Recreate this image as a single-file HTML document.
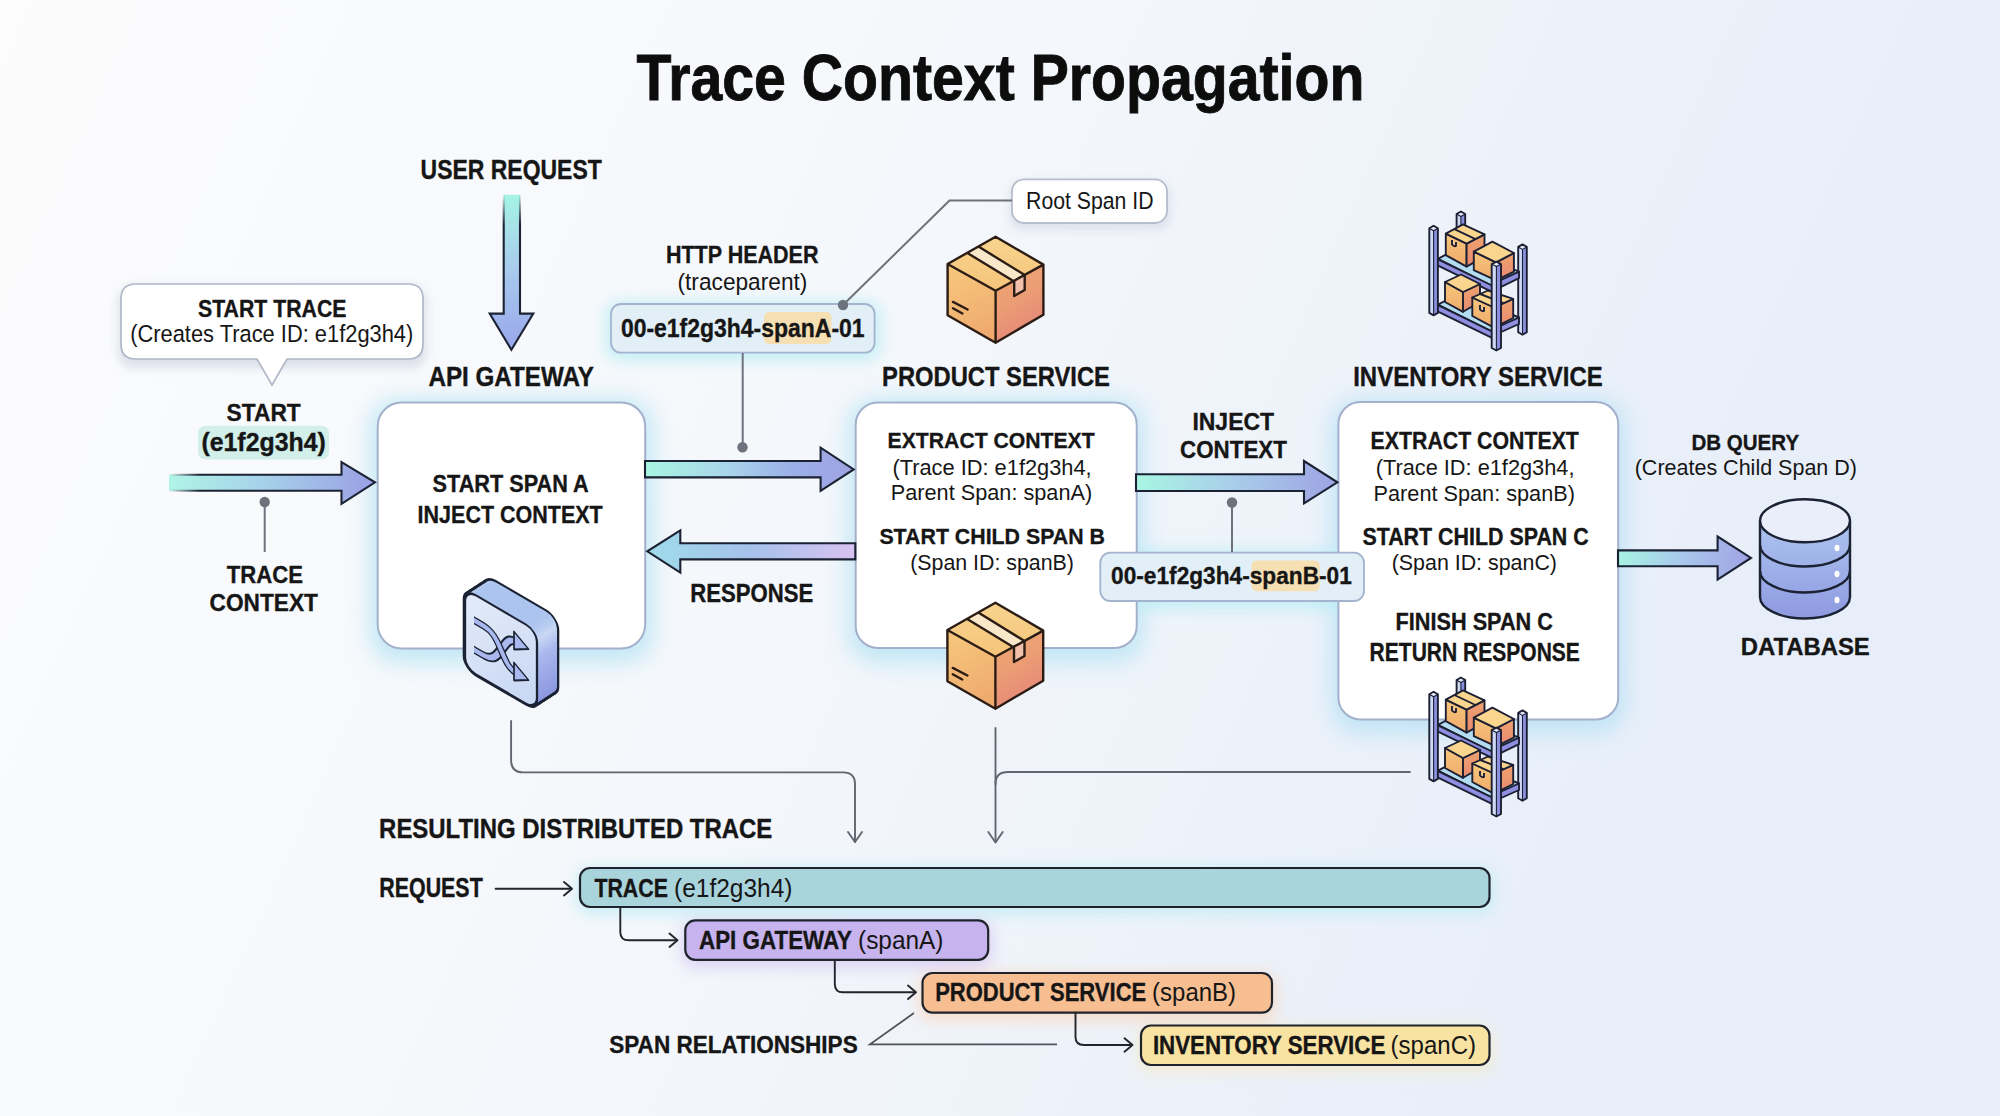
<!DOCTYPE html>
<html><head><meta charset="utf-8"><style>
html,body{margin:0;padding:0;width:2000px;height:1116px;overflow:hidden;background:#f3f5f9;}
svg{display:block;font-family:"Liberation Sans",sans-serif;}
</style></head><body>
<svg width="2000" height="1116" viewBox="0 0 2000 1116">
<defs>
<linearGradient id="bg" x1="0" y1="0" x2="1" y2="0.25"><stop offset="0" stop-color="#fcfcfd"/><stop offset="0.5" stop-color="#f4f7fb"/><stop offset="0.85" stop-color="#eaf0f9"/><stop offset="1" stop-color="#e7eef9"/></linearGradient>
<linearGradient id="fadeH" x1="169" y1="0" x2="200" y2="0" gradientUnits="userSpaceOnUse"><stop offset="0" stop-color="#1b2233" stop-opacity="0"/><stop offset="1" stop-color="#1b2233" stop-opacity="1"/></linearGradient>
<linearGradient id="fadeV" x1="0" y1="194" x2="0" y2="225" gradientUnits="userSpaceOnUse"><stop offset="0" stop-color="#1b2233" stop-opacity="0"/><stop offset="1" stop-color="#1b2233" stop-opacity="1"/></linearGradient>
<linearGradient id="gA1" x1="169" y1="0" x2="375" y2="0" gradientUnits="userSpaceOnUse"><stop offset="0" stop-color="#b0f4e6"/><stop offset="0.45" stop-color="#a6d2ea"/><stop offset="1" stop-color="#9a9fe4"/></linearGradient>
<linearGradient id="gA2" x1="645" y1="0" x2="854" y2="0" gradientUnits="userSpaceOnUse"><stop offset="0" stop-color="#a8f6e2"/><stop offset="0.4" stop-color="#a9d4ea"/><stop offset="0.7" stop-color="#9ab0e8"/><stop offset="1" stop-color="#a0a2e2"/></linearGradient>
<linearGradient id="gA3" x1="647" y1="0" x2="855" y2="0" gradientUnits="userSpaceOnUse"><stop offset="0" stop-color="#9fdcea"/><stop offset="0.5" stop-color="#a6c2ec"/><stop offset="1" stop-color="#d8c2f0"/></linearGradient>
<linearGradient id="gA4" x1="1136" y1="0" x2="1337" y2="0" gradientUnits="userSpaceOnUse"><stop offset="0" stop-color="#a8f6e2"/><stop offset="0.45" stop-color="#a9d0ea"/><stop offset="1" stop-color="#9ea3e4"/></linearGradient>
<linearGradient id="gA5" x1="1618" y1="0" x2="1751" y2="0" gradientUnits="userSpaceOnUse"><stop offset="0" stop-color="#a8f3e2"/><stop offset="0.5" stop-color="#a8c6ec"/><stop offset="1" stop-color="#a0a2e4"/></linearGradient>
<linearGradient id="gV" x1="0" y1="195" x2="0" y2="350" gradientUnits="userSpaceOnUse"><stop offset="0" stop-color="#a5f4e4"/><stop offset="0.45" stop-color="#a9cdee"/><stop offset="1" stop-color="#98a6ea"/></linearGradient>
<linearGradient id="gCubeTop" x1="0" y1="0" x2="0" y2="1"><stop offset="0" stop-color="#f8d48e"/><stop offset="1" stop-color="#f5c47a"/></linearGradient>
<linearGradient id="gCubeL" x1="0" y1="0" x2="0.3" y2="1"><stop offset="0" stop-color="#f7c97e"/><stop offset="1" stop-color="#efab6e"/></linearGradient>
<linearGradient id="gCubeR" x1="0" y1="0" x2="0.4" y2="1"><stop offset="0" stop-color="#eeaa72"/><stop offset="0.55" stop-color="#eb9c74"/><stop offset="1" stop-color="#e5887a"/></linearGradient>
<linearGradient id="gSwFront" x1="0" y1="0" x2="1" y2="1"><stop offset="0" stop-color="#e4ecf9"/><stop offset="1" stop-color="#c6d6f3"/></linearGradient>
<linearGradient id="gSwSide" x1="0" y1="0" x2="0" y2="79" gradientUnits="userSpaceOnUse"><stop offset="0" stop-color="#a8c2ee"/><stop offset="0.12" stop-color="#c9d8f4"/><stop offset="0.35" stop-color="#a9b9ee"/><stop offset="1" stop-color="#8893de"/></linearGradient>
<linearGradient id="gPost" x1="0" y1="0" x2="1" y2="0"><stop offset="0" stop-color="#cdd8f6"/><stop offset="0.45" stop-color="#c0ccf4"/><stop offset="0.5" stop-color="#8f93e0"/><stop offset="1" stop-color="#7d82d6"/></linearGradient>
<linearGradient id="gBoxL" x1="0" y1="0" x2="0" y2="1"><stop offset="0" stop-color="#f6c67c"/><stop offset="1" stop-color="#f0ab6c"/></linearGradient>
<linearGradient id="gBoxR" x1="0" y1="0" x2="0" y2="1"><stop offset="0" stop-color="#eea370"/><stop offset="1" stop-color="#e98a70"/></linearGradient>
<linearGradient id="gDB" x1="0" y1="0" x2="0" y2="1"><stop offset="0" stop-color="#adc4f0"/><stop offset="1" stop-color="#8e9ae0"/></linearGradient>
<filter id="blur12" x="-30%" y="-30%" width="160%" height="160%"><feGaussianBlur stdDeviation="12"/></filter>
<filter id="blur8" x="-30%" y="-50%" width="160%" height="200%"><feGaussianBlur stdDeviation="8"/></filter>
<filter id="blur5" x="-30%" y="-50%" width="160%" height="200%"><feGaussianBlur stdDeviation="5"/></filter>
</defs>
<rect width="2000" height="1116" fill="url(#bg)"/>

<!-- glows -->
<g filter="url(#blur12)" opacity="1">
 <rect x="371" y="400" width="281" height="262" rx="26" fill="#bfe6f5"/>
 <rect x="849" y="400" width="294" height="262" rx="26" fill="#bfe6f5"/>
 <rect x="1332" y="400" width="293" height="333" rx="26" fill="#bfe3f6"/>
</g>
<g filter="url(#blur8)" opacity="0.9">
 <rect x="606" y="302" width="274" height="58" rx="12" fill="#bdeef5"/>
 <rect x="1095" y="551" width="274" height="58" rx="12" fill="#bdeef5"/>
 <rect x="577" y="868" width="916" height="46" rx="12" fill="#c2edf5"/>
 <rect x="682" y="921" width="310" height="46" rx="12" fill="#d8cdf3"/>
 <rect x="919" y="974" width="357" height="46" rx="12" fill="#f7d9c6"/>
 <rect x="1138" y="1026" width="355" height="46" rx="12" fill="#f3ead0"/>
</g>
<g filter="url(#blur5)" opacity="0.6">
 <rect x="118" y="286" width="308" height="82" rx="15" fill="#c9cfdc"/>
 <rect x="1010" y="182" width="160" height="48" rx="12" fill="#cfd5e2"/>
</g>

<!-- main boxes -->
<rect x="377.7" y="402.4" width="267.5" height="246.2" rx="24" fill="#ffffff" stroke="#a3b0cc" stroke-width="2"/>
<rect x="855.7" y="402.6" width="281" height="245.4" rx="22" fill="#ffffff" stroke="#a3b0cc" stroke-width="2"/>
<rect x="1338.4" y="402" width="279.8" height="317.4" rx="22" fill="#ffffff" stroke="#a3b0cc" stroke-width="2"/>

<!-- callout -->
<path d="M136,284 H408 Q423,284 423,299 V344 Q423,359 408,359 H287 L272,385 L257,359 H136 Q121,359 121,344 V299 Q121,284 136,284 Z" fill="#ffffff" stroke="#b0b7c6" stroke-width="1.7"/>
<!-- root span -->
<rect x="1012" y="179.3" width="155" height="43.7" rx="12" fill="#ffffff" stroke="#b6bdcd" stroke-width="1.8"/>
<!-- header boxes -->
<rect x="611" y="304" width="263.6" height="48.7" rx="10" fill="#e3eff7" stroke="#a4b4cf" stroke-width="1.8"/>
<rect x="1100.3" y="552.7" width="263.7" height="48.3" rx="10" fill="#e3eff7" stroke="#a4b4cf" stroke-width="1.8"/>
<rect x="764" y="312" width="67.4" height="32" rx="5" fill="#f6dfb2"/>
<rect x="1251.7" y="560.6" width="68" height="30.6" rx="5" fill="#f6dfb2"/>
<rect x="198" y="425.8" width="131" height="33.6" rx="7" fill="#d2efea"/>

<!-- pins -->
<g stroke="#6d727c" stroke-width="2" fill="none">
 <path d="M264.7,502 V552"/>
 <path d="M742.7,353 V447"/>
 <path d="M843,305 L949.5,200.5 H1012"/>
 <path d="M1232,502.5 V552"/>
</g>
<g fill="#6d727c">
 <circle cx="264.7" cy="502" r="5.2"/>
 <circle cx="742.5" cy="447.3" r="5.2"/>
 <circle cx="843" cy="305" r="5.2"/>
 <circle cx="1232" cy="502.5" r="5.2"/>
</g>

<!-- connectors -->
<g stroke="#61666f" stroke-width="1.9" fill="none" stroke-linecap="round" stroke-linejoin="round">
 <path d="M511.1,721 V760 Q511.1,772.4 523,772.4 H843 Q855,772.4 855,784 V842"/>
 <path d="M848,832 L855,842 L862,832"/>
 <path d="M995.5,728 V842"/>
 <path d="M988.3,832 L995.5,842.5 L1002.7,832"/>
 <path d="M1410,772 H1008 Q995.5,772 995.5,784"/>
</g>
<g stroke="#22252b" stroke-width="1.9" fill="none" stroke-linecap="round" stroke-linejoin="round">
 <path d="M495.6,888.7 H571"/><path d="M564,882 L572,888.7 L564,895.4"/>
 <path d="M620.3,907 V932 Q620.3,940.3 629,940.3 H676.5"/><path d="M669.5,933.6 L677.5,940.3 L669.5,947"/>
 <path d="M834.8,960 V984 Q834.8,992.3 843,992.3 H915"/><path d="M908,985.6 L916,992.3 L908,999"/>
 <path d="M1075.5,1012.6 V1037 Q1075.5,1045 1084,1045 H1131.5"/><path d="M1124.5,1038.3 L1132.5,1045 L1124.5,1051.7"/>
</g>
<g stroke="#4f535a" stroke-width="1.8" fill="none">
 <path d="M914,1013 L870,1044.3 H1057"/>
</g>

<!-- bars -->
<g stroke="#1f232b" stroke-width="2.2">
 <rect x="580" y="868" width="909.5" height="39" rx="10" fill="#a9d4dc"/>
 <rect x="685.3" y="920.3" width="302.9" height="39.5" rx="10" fill="#c7b4ee"/>
 <rect x="922.5" y="973" width="349.5" height="39.6" rx="10" fill="#f6be91"/>
 <rect x="1141" y="1025.5" width="348.5" height="39.5" rx="10" fill="#f8e3a2"/>
</g>

<path d="M169,474.7 H341.5 V462 L375,482.3 L341.5,503.8 V490.8 H169 Z" fill="url(#gA1)"/><path d="M169,474.7 H341.5 V462 L375,482.3 L341.5,503.8 V490.8 H169" fill="none" stroke="url(#fadeH)" stroke-width="2.1" stroke-linejoin="miter"/>
<path d="M645,461 H820.6 V447.7 L853.7,469.4 L820.6,490.8 V477.4 H645 Z" fill="url(#gA2)"/><path d="M645,461 H820.6 V447.7 L853.7,469.4 L820.6,490.8 V477.4 H645 Z" fill="none" stroke="#1b2233" stroke-width="2.1" stroke-linejoin="miter"/>
<path d="M855.3,543.2 H680.3 V530.3 L647.3,551.3 L680.3,572.6 V559.4 H855.3 Z" fill="url(#gA3)"/><path d="M855.3,543.2 H680.3 V530.3 L647.3,551.3 L680.3,572.6 V559.4 H855.3 Z" fill="none" stroke="#1b2233" stroke-width="2.1"/>
<path d="M1136,474.3 H1304 V461 L1337.4,482.3 L1304,503.4 V491 H1136 Z" fill="url(#gA4)"/><path d="M1136,474.3 H1304 V461 L1337.4,482.3 L1304,503.4 V491 H1136 Z" fill="none" stroke="#1b2233" stroke-width="2.1" stroke-linejoin="miter"/>
<path d="M1618,550.4 H1717.6 V536.5 L1751,557.9 L1717.6,579.6 V566.3 H1618 Z" fill="url(#gA5)"/><path d="M1618,550.4 H1717.6 V536.5 L1751,557.9 L1717.6,579.6 V566.3 H1618 Z" fill="none" stroke="#1b2233" stroke-width="2.1" stroke-linejoin="miter"/>
<path d="M503.7,194.8 V313.6 H489.7 L511.4,349.8 L533.3,313.6 H520 V194.8 Z" fill="url(#gV)"/><path d="M503.7,194.8 V313.6 H489.7 L511.4,349.8 L533.3,313.6 H520 V194.8" fill="none" stroke="url(#fadeV)" stroke-width="2.1"/>
<polygon points="995.6,236.7 1043.4,264.6 995.6,290.8 947.6,264.0" fill="url(#gCubeTop)"/>
<polygon points="947.6,264.0 995.6,290.8 995.6,342.7 947.6,315.3" fill="url(#gCubeL)"/>
<polygon points="995.6,290.8 1043.4,264.6 1043.4,314.7 995.6,342.7" fill="url(#gCubeR)"/>
<polygon points="968.2,253.5 979.3,247.1 1024.7,275.0 1014.2,281.5" fill="#f9e7c9"/>
<polygon points="1014.2,281.5 1024.7,275.0 1024.7,290.0 1014.2,296.0" fill="#f2c0aa"/>
<path d="M995.6,236.7 L1043.4,264.6 L1043.4,314.7 L995.6,342.7 L947.6,315.3 L947.6,264.0 Z M947.6,264.0 L995.6,290.8 L1043.4,264.6 M995.6,290.8 L995.6,342.7" fill="none" stroke="#2b1d15" stroke-width="2.4" stroke-linejoin="round" stroke-linecap="round"/>
<path d="M968.2,253.5 L1014.2,281.5 M979.3,247.1 L1024.7,275.0 M1014.2,281.5 L1014.2,296.0 L1024.7,290.0 L1024.7,275.0 M953.0,301.9 L967.6,309.5 M953.0,308.3 L962.4,313.5" fill="none" stroke="#2b1d15" stroke-width="2.4" stroke-linejoin="round" stroke-linecap="round" stroke-width="2"/>
<polygon points="995.4,602.7 1043.2,630.6 995.4,656.8 947.4,630.0" fill="url(#gCubeTop)"/>
<polygon points="947.4,630.0 995.4,656.8 995.4,708.7 947.4,681.3" fill="url(#gCubeL)"/>
<polygon points="995.4,656.8 1043.2,630.6 1043.2,680.7 995.4,708.7" fill="url(#gCubeR)"/>
<polygon points="968.0,619.5 979.1,613.1 1024.5,641.0 1014.0,647.5" fill="#f9e7c9"/>
<polygon points="1014.0,647.5 1024.5,641.0 1024.5,656.0 1014.0,662.0" fill="#f2c0aa"/>
<path d="M995.4,602.7 L1043.2,630.6 L1043.2,680.7 L995.4,708.7 L947.4,681.3 L947.4,630.0 Z M947.4,630.0 L995.4,656.8 L1043.2,630.6 M995.4,656.8 L995.4,708.7" fill="none" stroke="#2b1d15" stroke-width="2.4" stroke-linejoin="round" stroke-linecap="round"/>
<path d="M968.0,619.5 L1014.0,647.5 M979.1,613.1 L1024.5,641.0 M1014.0,647.5 L1014.0,662.0 L1024.5,656.0 L1024.5,641.0 M952.8,667.9 L967.4,675.5 M952.8,674.3 L962.2,679.5" fill="none" stroke="#2b1d15" stroke-width="2.4" stroke-linejoin="round" stroke-linecap="round" stroke-width="2"/>
<g fill="none" stroke="#1b2233" stroke-width="4.6">
<g transform="translate(20.00,-13.00)"><rect x="0" y="0" width="72" height="79" rx="11" transform="matrix(1,0.583,0,1,465,589)"/></g>
<g transform="translate(18.33,-11.92)"><rect x="0" y="0" width="72" height="79" rx="11" transform="matrix(1,0.583,0,1,465,589)"/></g>
<g transform="translate(16.67,-10.83)"><rect x="0" y="0" width="72" height="79" rx="11" transform="matrix(1,0.583,0,1,465,589)"/></g>
<g transform="translate(15.00,-9.75)"><rect x="0" y="0" width="72" height="79" rx="11" transform="matrix(1,0.583,0,1,465,589)"/></g>
<g transform="translate(13.33,-8.67)"><rect x="0" y="0" width="72" height="79" rx="11" transform="matrix(1,0.583,0,1,465,589)"/></g>
<g transform="translate(11.67,-7.58)"><rect x="0" y="0" width="72" height="79" rx="11" transform="matrix(1,0.583,0,1,465,589)"/></g>
<g transform="translate(10.00,-6.50)"><rect x="0" y="0" width="72" height="79" rx="11" transform="matrix(1,0.583,0,1,465,589)"/></g>
<g transform="translate(8.33,-5.42)"><rect x="0" y="0" width="72" height="79" rx="11" transform="matrix(1,0.583,0,1,465,589)"/></g>
<g transform="translate(6.67,-4.33)"><rect x="0" y="0" width="72" height="79" rx="11" transform="matrix(1,0.583,0,1,465,589)"/></g>
<g transform="translate(5.00,-3.25)"><rect x="0" y="0" width="72" height="79" rx="11" transform="matrix(1,0.583,0,1,465,589)"/></g>
<g transform="translate(3.33,-2.17)"><rect x="0" y="0" width="72" height="79" rx="11" transform="matrix(1,0.583,0,1,465,589)"/></g>
<g transform="translate(1.67,-1.08)"><rect x="0" y="0" width="72" height="79" rx="11" transform="matrix(1,0.583,0,1,465,589)"/></g>
<g transform="translate(0.00,0.00)"><rect x="0" y="0" width="72" height="79" rx="11" transform="matrix(1,0.583,0,1,465,589)"/></g>
</g>
<g fill="url(#gSwSide)" stroke="none">
<g transform="translate(20.00,-13.00)"><rect x="0" y="0" width="72" height="79" rx="11" transform="matrix(1,0.583,0,1,465,589)"/></g>
<g transform="translate(18.33,-11.92)"><rect x="0" y="0" width="72" height="79" rx="11" transform="matrix(1,0.583,0,1,465,589)"/></g>
<g transform="translate(16.67,-10.83)"><rect x="0" y="0" width="72" height="79" rx="11" transform="matrix(1,0.583,0,1,465,589)"/></g>
<g transform="translate(15.00,-9.75)"><rect x="0" y="0" width="72" height="79" rx="11" transform="matrix(1,0.583,0,1,465,589)"/></g>
<g transform="translate(13.33,-8.67)"><rect x="0" y="0" width="72" height="79" rx="11" transform="matrix(1,0.583,0,1,465,589)"/></g>
<g transform="translate(11.67,-7.58)"><rect x="0" y="0" width="72" height="79" rx="11" transform="matrix(1,0.583,0,1,465,589)"/></g>
<g transform="translate(10.00,-6.50)"><rect x="0" y="0" width="72" height="79" rx="11" transform="matrix(1,0.583,0,1,465,589)"/></g>
<g transform="translate(8.33,-5.42)"><rect x="0" y="0" width="72" height="79" rx="11" transform="matrix(1,0.583,0,1,465,589)"/></g>
<g transform="translate(6.67,-4.33)"><rect x="0" y="0" width="72" height="79" rx="11" transform="matrix(1,0.583,0,1,465,589)"/></g>
<g transform="translate(5.00,-3.25)"><rect x="0" y="0" width="72" height="79" rx="11" transform="matrix(1,0.583,0,1,465,589)"/></g>
<g transform="translate(3.33,-2.17)"><rect x="0" y="0" width="72" height="79" rx="11" transform="matrix(1,0.583,0,1,465,589)"/></g>
<g transform="translate(1.67,-1.08)"><rect x="0" y="0" width="72" height="79" rx="11" transform="matrix(1,0.583,0,1,465,589)"/></g>
<g transform="translate(0.00,0.00)"><rect x="0" y="0" width="72" height="79" rx="11" transform="matrix(1,0.583,0,1,465,589)"/></g>
</g>
<rect x="0" y="0" width="72" height="79" rx="11" transform="matrix(1,0.583,0,1,465,589)" fill="url(#gSwFront)" stroke="#1b2233" stroke-width="2.3"/>
<g transform="matrix(1,0.583,0,1,465,589)" fill="none" stroke-linecap="butt"><path d="M9,55.5 H18 C27,55.5 31,50 36,40 C41,30 44,23 51,23" stroke="#1b2233" stroke-width="8.2"/><path d="M9,55.5 H18 C27,55.5 31,50 36,40 C41,30 44,23 51,23" stroke="#a9b8ee" stroke-width="5"/><polygon points="49,14 63.5,23 49,32" fill="#a9b8ee" stroke="#1b2233" stroke-width="1.7" stroke-linejoin="round"/><path d="M9,26 H18 C27,26 31,31 36,40 C41,49 44,54 51,54" stroke="#1b2233" stroke-width="8.2"/><path d="M9,26 H18 C27,26 31,31 36,40 C41,49 44,54 51,54" stroke="#a9b8ee" stroke-width="5"/><polygon points="49,45 63.5,54 49,63" fill="#a9b8ee" stroke="#1b2233" stroke-width="1.7" stroke-linejoin="round"/></g>
<polygon points="1456.6,214.0 1460.9,216.5 1460.9,262.0 1456.6,259.5" fill="#cfdaf6"/><polygon points="1460.9,216.5 1465.2,214.0 1465.2,259.5 1460.9,262.0" fill="#8b90de"/><polygon points="1456.6,214.0 1460.9,211.5 1465.2,214.0 1460.9,216.5" fill="#e6ecfb"/><polygon points="1456.6,214.0 1460.9,211.5 1465.2,214.0 1465.2,259.5 1460.9,262.0 1456.6,259.5" fill="none" stroke="#1d2033" stroke-width="1.9" stroke-linejoin="round"/><path d="M1456.6,214.0 L1460.9,216.5 L1465.2,214.0 M1460.9,216.5 V262.0" fill="none" stroke="#1d2033" stroke-width="1.1"/>
<polygon points="1518.2,246.9 1522.5,249.4 1522.5,334.7 1518.2,332.2" fill="#cfdaf6"/><polygon points="1522.5,249.4 1526.8,246.9 1526.8,332.2 1522.5,334.7" fill="#8b90de"/><polygon points="1518.2,246.9 1522.5,244.4 1526.8,246.9 1522.5,249.4" fill="#e6ecfb"/><polygon points="1518.2,246.9 1522.5,244.4 1526.8,246.9 1526.8,332.2 1522.5,334.7 1518.2,332.2" fill="none" stroke="#1d2033" stroke-width="1.9" stroke-linejoin="round"/><path d="M1518.2,246.9 L1522.5,249.4 L1526.8,246.9 M1522.5,249.4 V334.7" fill="none" stroke="#1d2033" stroke-width="1.1"/>
<polygon points="1438.0,258.8 1460.0,247.0 1519.0,271.7 1496.0,288.0" fill="#b3dcf1" stroke="#1d2033" stroke-width="1.9" stroke-linejoin="round"/>
<polygon points="1445.8,233.7 1466.6,243.7 1466.6,266.6 1445.8,255.2" fill="url(#gBoxL)" stroke="#1d2033" stroke-width="1.9" stroke-linejoin="round"/><polygon points="1466.6,243.7 1484.5,234.4 1484.5,256.6 1466.6,266.6" fill="url(#gBoxR)" stroke="#1d2033" stroke-width="1.9" stroke-linejoin="round"/><polygon points="1445.8,233.7 1463.0,224.4 1484.5,234.4 1466.6,243.7" fill="#f9d58e" stroke="#1d2033" stroke-width="1.9" stroke-linejoin="round"/><path d="M1454.4,229.1 L1475.5,239.1" stroke="#1d2033" stroke-width="1.9" stroke-linejoin="round" fill="none" stroke-width="1.5"/><path d="M1452.0,240.0 V244.5 Q1454.0,247.0 1456.0,246.0 V242.0" stroke="#1d2033" stroke-width="1.9" stroke-linejoin="round" fill="#f3c89c" stroke-width="1.5"/>
<polygon points="1473.8,251.6 1496.0,262.3 1496.0,280.3 1473.8,270.2" fill="url(#gBoxL)" stroke="#1d2033" stroke-width="1.9" stroke-linejoin="round"/><polygon points="1496.0,262.3 1513.9,253.0 1513.9,271.7 1496.0,280.3" fill="url(#gBoxR)" stroke="#1d2033" stroke-width="1.9" stroke-linejoin="round"/><polygon points="1473.8,251.6 1492.4,241.6 1513.9,253.0 1496.0,262.3" fill="#f9d58e" stroke="#1d2033" stroke-width="1.9" stroke-linejoin="round"/>
<polygon points="1437.0,258.8 1493.0,286.0 1493.0,292.4 1437.0,265.2" fill="#8e8fe0" stroke="#1d2033" stroke-width="1.9" stroke-linejoin="round"/>
<polygon points="1500.0,280.3 1519.0,271.7 1519.0,278.1 1500.0,287.4" fill="#8e8fe0" stroke="#1d2033" stroke-width="1.9" stroke-linejoin="round"/>
<polygon points="1438.0,304.6 1460.0,293.0 1519.0,317.5 1496.0,333.9" fill="#b3dcf1" stroke="#1d2033" stroke-width="1.9" stroke-linejoin="round"/>
<polygon points="1445.0,282.0 1463.0,292.0 1463.0,311.8 1445.0,302.0" fill="url(#gBoxL)" stroke="#1d2033" stroke-width="1.9" stroke-linejoin="round"/><polygon points="1463.0,292.0 1480.0,284.0 1480.0,302.0 1463.0,311.8" fill="url(#gBoxR)" stroke="#1d2033" stroke-width="1.9" stroke-linejoin="round"/><polygon points="1445.0,282.0 1461.0,274.5 1480.0,284.0 1463.0,292.0" fill="#f9d58e" stroke="#1d2033" stroke-width="1.9" stroke-linejoin="round"/>
<polygon points="1472.3,297.5 1494.0,307.5 1494.0,327.6 1472.3,316.0" fill="url(#gBoxL)" stroke="#1d2033" stroke-width="1.9" stroke-linejoin="round"/><polygon points="1494.0,307.5 1513.2,298.9 1513.2,318.0 1494.0,327.6" fill="url(#gBoxR)" stroke="#1d2033" stroke-width="1.9" stroke-linejoin="round"/><polygon points="1472.3,297.5 1488.0,290.5 1513.2,298.9 1494.0,307.5" fill="#f9d58e" stroke="#1d2033" stroke-width="1.9" stroke-linejoin="round"/><path d="M1480.2,294.0 L1503.6,303.2" stroke="#1d2033" stroke-width="1.9" stroke-linejoin="round" fill="none" stroke-width="1.5"/><path d="M1480.0,305.0 V309.5 Q1482.0,312.0 1484.0,311.0 V307.0" stroke="#1d2033" stroke-width="1.9" stroke-linejoin="round" fill="#f3c89c" stroke-width="1.5"/>
<polygon points="1437.0,304.6 1493.0,331.9 1493.0,338.4 1437.0,311.1" fill="#8e8fe0" stroke="#1d2033" stroke-width="1.9" stroke-linejoin="round"/>
<polygon points="1500.0,326.0 1519.0,317.5 1519.0,324.0 1500.0,332.5" fill="#8e8fe0" stroke="#1d2033" stroke-width="1.9" stroke-linejoin="round"/>
<polygon points="1429.3,228.3 1433.6,230.8 1433.6,315.4 1429.3,312.9" fill="#cfdaf6"/><polygon points="1433.6,230.8 1437.9,228.3 1437.9,312.9 1433.6,315.4" fill="#8b90de"/><polygon points="1429.3,228.3 1433.6,225.8 1437.9,228.3 1433.6,230.8" fill="#e6ecfb"/><polygon points="1429.3,228.3 1433.6,225.8 1437.9,228.3 1437.9,312.9 1433.6,315.4 1429.3,312.9" fill="none" stroke="#1d2033" stroke-width="1.9" stroke-linejoin="round"/><path d="M1429.3,228.3 L1433.6,230.8 L1437.9,228.3 M1433.6,230.8 V315.4" fill="none" stroke="#1d2033" stroke-width="1.1"/>
<polygon points="1491.7,264.1 1496.4,266.6 1496.4,350.5 1491.7,348.0" fill="#cfdaf6"/><polygon points="1496.4,266.6 1501.0,264.1 1501.0,348.0 1496.4,350.5" fill="#8b90de"/><polygon points="1491.7,264.1 1496.4,261.6 1501.0,264.1 1496.4,266.6" fill="#e6ecfb"/><polygon points="1491.7,264.1 1496.4,261.6 1501.0,264.1 1501.0,348.0 1496.4,350.5 1491.7,348.0" fill="none" stroke="#1d2033" stroke-width="1.9" stroke-linejoin="round"/><path d="M1491.7,264.1 L1496.4,266.6 L1501.0,264.1 M1496.4,266.6 V350.5" fill="none" stroke="#1d2033" stroke-width="1.1"/>
<polygon points="1456.6,680.0 1460.9,682.5 1460.9,728.0 1456.6,725.5" fill="#cfdaf6"/><polygon points="1460.9,682.5 1465.2,680.0 1465.2,725.5 1460.9,728.0" fill="#8b90de"/><polygon points="1456.6,680.0 1460.9,677.5 1465.2,680.0 1460.9,682.5" fill="#e6ecfb"/><polygon points="1456.6,680.0 1460.9,677.5 1465.2,680.0 1465.2,725.5 1460.9,728.0 1456.6,725.5" fill="none" stroke="#1d2033" stroke-width="1.9" stroke-linejoin="round"/><path d="M1456.6,680.0 L1460.9,682.5 L1465.2,680.0 M1460.9,682.5 V728.0" fill="none" stroke="#1d2033" stroke-width="1.1"/>
<polygon points="1518.2,712.9 1522.5,715.4 1522.5,800.7 1518.2,798.2" fill="#cfdaf6"/><polygon points="1522.5,715.4 1526.8,712.9 1526.8,798.2 1522.5,800.7" fill="#8b90de"/><polygon points="1518.2,712.9 1522.5,710.4 1526.8,712.9 1522.5,715.4" fill="#e6ecfb"/><polygon points="1518.2,712.9 1522.5,710.4 1526.8,712.9 1526.8,798.2 1522.5,800.7 1518.2,798.2" fill="none" stroke="#1d2033" stroke-width="1.9" stroke-linejoin="round"/><path d="M1518.2,712.9 L1522.5,715.4 L1526.8,712.9 M1522.5,715.4 V800.7" fill="none" stroke="#1d2033" stroke-width="1.1"/>
<polygon points="1438.0,724.8 1460.0,713.0 1519.0,737.7 1496.0,754.0" fill="#b3dcf1" stroke="#1d2033" stroke-width="1.9" stroke-linejoin="round"/>
<polygon points="1445.8,699.7 1466.6,709.7 1466.6,732.6 1445.8,721.2" fill="url(#gBoxL)" stroke="#1d2033" stroke-width="1.9" stroke-linejoin="round"/><polygon points="1466.6,709.7 1484.5,700.4 1484.5,722.6 1466.6,732.6" fill="url(#gBoxR)" stroke="#1d2033" stroke-width="1.9" stroke-linejoin="round"/><polygon points="1445.8,699.7 1463.0,690.4 1484.5,700.4 1466.6,709.7" fill="#f9d58e" stroke="#1d2033" stroke-width="1.9" stroke-linejoin="round"/><path d="M1454.4,695.0 L1475.5,705.0" stroke="#1d2033" stroke-width="1.9" stroke-linejoin="round" fill="none" stroke-width="1.5"/><path d="M1452.0,706.0 V710.5 Q1454.0,713.0 1456.0,712.0 V708.0" stroke="#1d2033" stroke-width="1.9" stroke-linejoin="round" fill="#f3c89c" stroke-width="1.5"/>
<polygon points="1473.8,717.6 1496.0,728.3 1496.0,746.3 1473.8,736.2" fill="url(#gBoxL)" stroke="#1d2033" stroke-width="1.9" stroke-linejoin="round"/><polygon points="1496.0,728.3 1513.9,719.0 1513.9,737.7 1496.0,746.3" fill="url(#gBoxR)" stroke="#1d2033" stroke-width="1.9" stroke-linejoin="round"/><polygon points="1473.8,717.6 1492.4,707.6 1513.9,719.0 1496.0,728.3" fill="#f9d58e" stroke="#1d2033" stroke-width="1.9" stroke-linejoin="round"/>
<polygon points="1437.0,724.8 1493.0,752.0 1493.0,758.4 1437.0,731.2" fill="#8e8fe0" stroke="#1d2033" stroke-width="1.9" stroke-linejoin="round"/>
<polygon points="1500.0,746.3 1519.0,737.7 1519.0,744.1 1500.0,753.4" fill="#8e8fe0" stroke="#1d2033" stroke-width="1.9" stroke-linejoin="round"/>
<polygon points="1438.0,770.6 1460.0,759.0 1519.0,783.5 1496.0,799.9" fill="#b3dcf1" stroke="#1d2033" stroke-width="1.9" stroke-linejoin="round"/>
<polygon points="1445.0,748.0 1463.0,758.0 1463.0,777.8 1445.0,768.0" fill="url(#gBoxL)" stroke="#1d2033" stroke-width="1.9" stroke-linejoin="round"/><polygon points="1463.0,758.0 1480.0,750.0 1480.0,768.0 1463.0,777.8" fill="url(#gBoxR)" stroke="#1d2033" stroke-width="1.9" stroke-linejoin="round"/><polygon points="1445.0,748.0 1461.0,740.5 1480.0,750.0 1463.0,758.0" fill="#f9d58e" stroke="#1d2033" stroke-width="1.9" stroke-linejoin="round"/>
<polygon points="1472.3,763.5 1494.0,773.5 1494.0,793.6 1472.3,782.0" fill="url(#gBoxL)" stroke="#1d2033" stroke-width="1.9" stroke-linejoin="round"/><polygon points="1494.0,773.5 1513.2,764.9 1513.2,784.0 1494.0,793.6" fill="url(#gBoxR)" stroke="#1d2033" stroke-width="1.9" stroke-linejoin="round"/><polygon points="1472.3,763.5 1488.0,756.5 1513.2,764.9 1494.0,773.5" fill="#f9d58e" stroke="#1d2033" stroke-width="1.9" stroke-linejoin="round"/><path d="M1480.2,760.0 L1503.6,769.2" stroke="#1d2033" stroke-width="1.9" stroke-linejoin="round" fill="none" stroke-width="1.5"/><path d="M1480.0,771.0 V775.5 Q1482.0,778.0 1484.0,777.0 V773.0" stroke="#1d2033" stroke-width="1.9" stroke-linejoin="round" fill="#f3c89c" stroke-width="1.5"/>
<polygon points="1437.0,770.6 1493.0,797.9 1493.0,804.4 1437.0,777.1" fill="#8e8fe0" stroke="#1d2033" stroke-width="1.9" stroke-linejoin="round"/>
<polygon points="1500.0,792.0 1519.0,783.5 1519.0,790.0 1500.0,798.5" fill="#8e8fe0" stroke="#1d2033" stroke-width="1.9" stroke-linejoin="round"/>
<polygon points="1429.3,694.3 1433.6,696.8 1433.6,781.4 1429.3,778.9" fill="#cfdaf6"/><polygon points="1433.6,696.8 1437.9,694.3 1437.9,778.9 1433.6,781.4" fill="#8b90de"/><polygon points="1429.3,694.3 1433.6,691.8 1437.9,694.3 1433.6,696.8" fill="#e6ecfb"/><polygon points="1429.3,694.3 1433.6,691.8 1437.9,694.3 1437.9,778.9 1433.6,781.4 1429.3,778.9" fill="none" stroke="#1d2033" stroke-width="1.9" stroke-linejoin="round"/><path d="M1429.3,694.3 L1433.6,696.8 L1437.9,694.3 M1433.6,696.8 V781.4" fill="none" stroke="#1d2033" stroke-width="1.1"/>
<polygon points="1491.7,730.1 1496.4,732.6 1496.4,816.5 1491.7,814.0" fill="#cfdaf6"/><polygon points="1496.4,732.6 1501.0,730.1 1501.0,814.0 1496.4,816.5" fill="#8b90de"/><polygon points="1491.7,730.1 1496.4,727.6 1501.0,730.1 1496.4,732.6" fill="#e6ecfb"/><polygon points="1491.7,730.1 1496.4,727.6 1501.0,730.1 1501.0,814.0 1496.4,816.5 1491.7,814.0" fill="none" stroke="#1d2033" stroke-width="1.9" stroke-linejoin="round"/><path d="M1491.7,730.1 L1496.4,732.6 L1501.0,730.1 M1496.4,732.6 V816.5" fill="none" stroke="#1d2033" stroke-width="1.1"/>
<path d="M1760,521 V597 A45,21.5 0 0 0 1850,597 V521" fill="url(#gDB)" stroke="#1b2233" stroke-width="2.4"/>
<path d="M1760,545 A45,21.5 0 0 0 1850,545 M1760,571 A45,21.5 0 0 0 1850,571" fill="none" stroke="#1b2233" stroke-width="2.4"/>
<ellipse cx="1805" cy="520.8" rx="45" ry="21.5" fill="#e9eefa" stroke="#1b2233" stroke-width="2.4"/>
<ellipse cx="1837" cy="548" rx="2.5" ry="3.2" fill="#ffffff"/>
<ellipse cx="1837" cy="574" rx="2.5" ry="3.2" fill="#ffffff"/>
<ellipse cx="1837" cy="600" rx="2.5" ry="3.2" fill="#ffffff"/>
<g>
<text x="636.4" y="100.0" font-size="63.95" font-weight="bold" fill="#0d0d0d" stroke="#0d0d0d" stroke-width="0.90" textLength="728.0" lengthAdjust="spacingAndGlyphs">Trace Context Propagation</text>
<text x="420.6" y="178.5" font-size="27.03" font-weight="bold" fill="#161616" stroke="#161616" stroke-width="0.38" textLength="181.2" lengthAdjust="spacingAndGlyphs">USER REQUEST</text>
<text x="428.4" y="386.2" font-size="27.33" font-weight="bold" fill="#161616" stroke="#161616" stroke-width="0.38" textLength="165.5" lengthAdjust="spacingAndGlyphs">API GATEWAY</text>
<text x="198.0" y="316.8" font-size="24.71" font-weight="bold" fill="#161616" stroke="#161616" stroke-width="0.35" textLength="148.5" lengthAdjust="spacingAndGlyphs">START TRACE</text>
<text x="130.2" y="342.0" font-size="23.55" font-weight="normal" fill="#161616" textLength="283.1" lengthAdjust="spacingAndGlyphs">(Creates Trace ID: e1f2g3h4)</text>
<text x="226.6" y="421.4" font-size="23.69" font-weight="bold" fill="#161616" stroke="#161616" stroke-width="0.33" textLength="74.1" lengthAdjust="spacingAndGlyphs">START</text>
<text x="201.4" y="451.0" font-size="26.16" font-weight="bold" fill="#161616" stroke="#161616" stroke-width="0.37" textLength="124.5" lengthAdjust="spacingAndGlyphs">(e1f2g3h4)</text>
<text x="226.8" y="582.6" font-size="24.71" font-weight="bold" fill="#161616" stroke="#161616" stroke-width="0.35" textLength="76.1" lengthAdjust="spacingAndGlyphs">TRACE</text>
<text x="209.6" y="610.6" font-size="24.71" font-weight="bold" fill="#161616" stroke="#161616" stroke-width="0.35" textLength="108.3" lengthAdjust="spacingAndGlyphs">CONTEXT</text>
<text x="432.6" y="492.0" font-size="23.98" font-weight="bold" fill="#161616" stroke="#161616" stroke-width="0.34" textLength="156.2" lengthAdjust="spacingAndGlyphs">START SPAN A</text>
<text x="417.6" y="523.0" font-size="24.42" font-weight="bold" fill="#161616" stroke="#161616" stroke-width="0.34" textLength="185.1" lengthAdjust="spacingAndGlyphs">INJECT CONTEXT</text>
<text x="665.9" y="263.4" font-size="23.98" font-weight="bold" fill="#161616" stroke="#161616" stroke-width="0.34" textLength="152.6" lengthAdjust="spacingAndGlyphs">HTTP HEADER</text>
<text x="677.5" y="289.5" font-size="23.26" font-weight="normal" fill="#161616" textLength="129.9" lengthAdjust="spacingAndGlyphs">(traceparent)</text>
<text x="620.9" y="336.8" font-size="25.29" font-weight="bold" fill="#161616" stroke="#161616" stroke-width="0.35" textLength="243.7" lengthAdjust="spacingAndGlyphs">00-e1f2g3h4-spanA-01</text>
<text x="1026.1" y="209.2" font-size="23.26" font-weight="normal" fill="#161616" textLength="127.4" lengthAdjust="spacingAndGlyphs">Root Span ID</text>
<text x="882.1" y="386.2" font-size="27.33" font-weight="bold" fill="#161616" stroke="#161616" stroke-width="0.38" textLength="227.8" lengthAdjust="spacingAndGlyphs">PRODUCT SERVICE</text>
<text x="690.2" y="602.0" font-size="25.58" font-weight="bold" fill="#161616" stroke="#161616" stroke-width="0.36" textLength="123.0" lengthAdjust="spacingAndGlyphs">RESPONSE</text>
<text x="887.6" y="448.4" font-size="22.97" font-weight="bold" fill="#161616" stroke="#161616" stroke-width="0.32" textLength="207.1" lengthAdjust="spacingAndGlyphs">EXTRACT CONTEXT</text>
<text x="892.4" y="474.6" font-size="22.67" font-weight="normal" fill="#161616" textLength="199.3" lengthAdjust="spacingAndGlyphs">(Trace ID: e1f2g3h4,</text>
<text x="890.8" y="499.5" font-size="22.67" font-weight="normal" fill="#161616" textLength="201.4" lengthAdjust="spacingAndGlyphs">Parent Span: spanA)</text>
<text x="879.4" y="544.2" font-size="22.97" font-weight="bold" fill="#161616" stroke="#161616" stroke-width="0.32" textLength="225.6" lengthAdjust="spacingAndGlyphs">START CHILD SPAN B</text>
<text x="910.2" y="569.6" font-size="22.67" font-weight="normal" fill="#161616" textLength="163.7" lengthAdjust="spacingAndGlyphs">(Span ID: spanB)</text>
<text x="1192.4" y="429.5" font-size="24.71" font-weight="bold" fill="#161616" stroke="#161616" stroke-width="0.35" textLength="81.7" lengthAdjust="spacingAndGlyphs">INJECT</text>
<text x="1180.1" y="457.7" font-size="24.71" font-weight="bold" fill="#161616" stroke="#161616" stroke-width="0.35" textLength="106.8" lengthAdjust="spacingAndGlyphs">CONTEXT</text>
<text x="1111.1" y="583.9" font-size="24.42" font-weight="bold" fill="#161616" stroke="#161616" stroke-width="0.34" textLength="240.7" lengthAdjust="spacingAndGlyphs">00-e1f2g3h4-spanB-01</text>
<text x="1353.2" y="386.2" font-size="27.33" font-weight="bold" fill="#161616" stroke="#161616" stroke-width="0.38" textLength="249.6" lengthAdjust="spacingAndGlyphs">INVENTORY SERVICE</text>
<text x="1370.6" y="449.0" font-size="23.26" font-weight="bold" fill="#161616" stroke="#161616" stroke-width="0.33" textLength="208.3" lengthAdjust="spacingAndGlyphs">EXTRACT CONTEXT</text>
<text x="1375.7" y="475.0" font-size="22.97" font-weight="normal" fill="#161616" textLength="198.8" lengthAdjust="spacingAndGlyphs">(Trace ID: e1f2g3h4,</text>
<text x="1373.6" y="501.0" font-size="22.97" font-weight="normal" fill="#161616" textLength="201.3" lengthAdjust="spacingAndGlyphs">Parent Span: spanB)</text>
<text x="1362.4" y="544.8" font-size="23.98" font-weight="bold" fill="#161616" stroke="#161616" stroke-width="0.34" textLength="226.3" lengthAdjust="spacingAndGlyphs">START CHILD SPAN C</text>
<text x="1391.7" y="570.0" font-size="22.97" font-weight="normal" fill="#161616" textLength="165.3" lengthAdjust="spacingAndGlyphs">(Span ID: spanC)</text>
<text x="1395.6" y="630.4" font-size="24.42" font-weight="bold" fill="#161616" stroke="#161616" stroke-width="0.34" textLength="157.3" lengthAdjust="spacingAndGlyphs">FINISH SPAN C</text>
<text x="1369.6" y="660.7" font-size="25.44" font-weight="bold" fill="#161616" stroke="#161616" stroke-width="0.36" textLength="210.3" lengthAdjust="spacingAndGlyphs">RETURN RESPONSE</text>
<text x="1691.4" y="449.8" font-size="22.97" font-weight="bold" fill="#161616" stroke="#161616" stroke-width="0.32" textLength="107.7" lengthAdjust="spacingAndGlyphs">DB QUERY</text>
<text x="1634.7" y="475.4" font-size="22.53" font-weight="normal" fill="#161616" textLength="222.3" lengthAdjust="spacingAndGlyphs">(Creates Child Span D)</text>
<text x="1740.7" y="654.8" font-size="24.71" font-weight="bold" fill="#161616" stroke="#161616" stroke-width="0.35" textLength="129.1" lengthAdjust="spacingAndGlyphs">DATABASE</text>
<text x="379.1" y="838.0" font-size="27.62" font-weight="bold" fill="#161616" stroke="#161616" stroke-width="0.39" textLength="393.2" lengthAdjust="spacingAndGlyphs">RESULTING DISTRIBUTED TRACE</text>
<text x="379.3" y="897.3" font-size="27.03" font-weight="bold" fill="#161616" stroke="#161616" stroke-width="0.38" textLength="103.4" lengthAdjust="spacingAndGlyphs">REQUEST</text>
<text x="594.4" y="896.6" font-size="26.16" font-weight="bold" fill="#161616" stroke="#161616" stroke-width="0.37" textLength="73.5" lengthAdjust="spacingAndGlyphs">TRACE</text>
<text x="674.0" y="896.6" font-size="26.16" font-weight="normal" fill="#161616" textLength="118.5" lengthAdjust="spacingAndGlyphs">(e1f2g3h4)</text>
<text x="699.0" y="948.9" font-size="25.73" font-weight="bold" fill="#161616" stroke="#161616" stroke-width="0.36" textLength="153.0" lengthAdjust="spacingAndGlyphs">API GATEWAY</text>
<text x="858.0" y="948.9" font-size="25.73" font-weight="normal" fill="#161616" textLength="85.5" lengthAdjust="spacingAndGlyphs">(spanA)</text>
<text x="935.2" y="1001.0" font-size="25.73" font-weight="bold" fill="#161616" stroke="#161616" stroke-width="0.36" textLength="211.0" lengthAdjust="spacingAndGlyphs">PRODUCT SERVICE</text>
<text x="1152.1" y="1001.0" font-size="25.73" font-weight="normal" fill="#161616" textLength="83.9" lengthAdjust="spacingAndGlyphs">(spanB)</text>
<text x="1152.9" y="1054.0" font-size="25.73" font-weight="bold" fill="#161616" stroke="#161616" stroke-width="0.36" textLength="232.4" lengthAdjust="spacingAndGlyphs">INVENTORY SERVICE</text>
<text x="1390.6" y="1054.0" font-size="25.73" font-weight="normal" fill="#161616" textLength="85.4" lengthAdjust="spacingAndGlyphs">(spanC)</text>
<text x="609.2" y="1053.4" font-size="24.71" font-weight="bold" fill="#161616" stroke="#161616" stroke-width="0.35" textLength="248.5" lengthAdjust="spacingAndGlyphs">SPAN RELATIONSHIPS</text>
</g>
</svg>
</body></html>
